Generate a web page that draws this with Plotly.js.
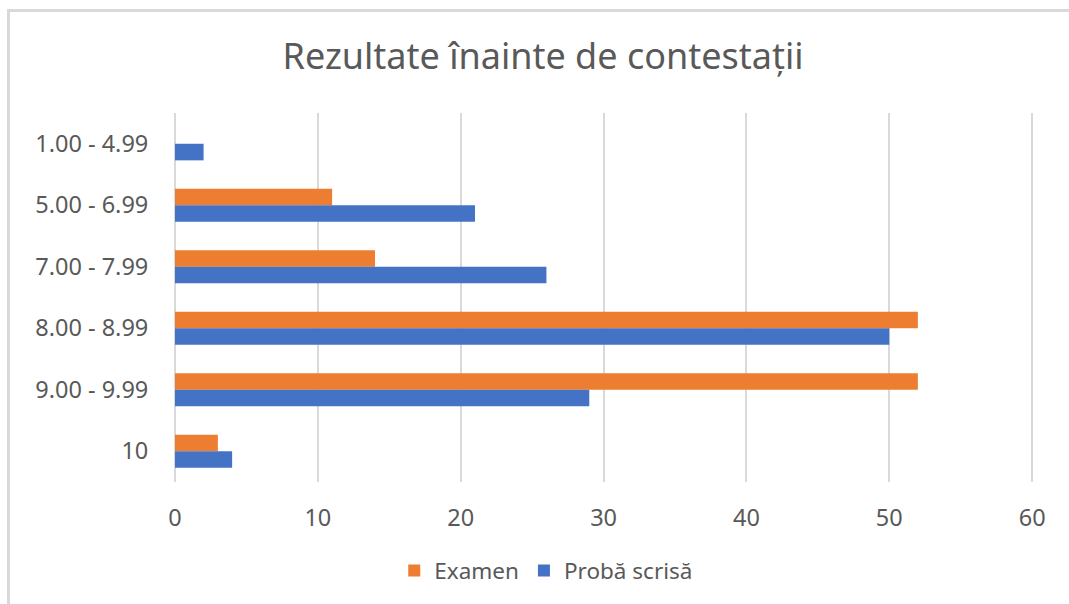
<!DOCTYPE html>
<html>
<head>
<meta charset="utf-8">
<script src="https://cdn.plot.ly/plotly-3.0.1.min.js"></script>
<style>
html,body{margin:0;padding:0;background:#fff;overflow:hidden;width:1069px;height:604px;}
#ftop{position:absolute;left:7px;top:9px;width:1062px;height:3px;background:#d9d9d9;z-index:5;}
#fleft{position:absolute;left:7px;top:9px;width:3px;height:595px;background:#d9d9d9;z-index:5;}
#chart{position:absolute;left:0;top:0;width:1069px;height:604px;}
</style>
</head>
<body>
<div id="ftop"></div>
<div id="fleft"></div>
<div id="chart"></div>
<script>
const categories = ["1.00 - 4.99", "5.00 - 6.99", "7.00 - 7.99", "8.00 - 8.99", "9.00 - 9.99", "10"];
const examen = [0, 11, 14, 52, 52, 3];
const probaScrisa = [2, 21, 26, 50, 29, 4];
const xTicks = [0, 10, 20, 30, 40, 50, 60];

const font = "'Noto Sans', 'Open Sans', sans-serif";
const traces = [
  {type: 'bar', orientation: 'h', name: 'Examen', y: categories, x: examen,
   marker: {color: '#ED7D31'}},
  {type: 'bar', orientation: 'h', name: 'Probă scrisă', y: categories, x: probaScrisa,
   marker: {color: '#4472C4'}}
];
const layout = {
  width: 1069, height: 604,
  margin: {l: 175, r: 34, t: 113, b: 122},
  paper_bgcolor: '#ffffff', plot_bgcolor: '#ffffff',
  font: {family: font, color: '#595959', size: 22},
  title: {text: 'Rezultate înainte de contestații', x: 0.508, xref: 'container', xanchor: 'center',
          y: 0.906, yref: 'container', yanchor: 'middle',
          font: {family: font, size: 36, color: '#595959'}},
  barmode: 'group', bargap: 0.46, bargroupgap: 0,
  xaxis: {range: [0, 60.2], tickvals: xTicks, showgrid: true, gridcolor: '#d9d9d9', gridwidth: 2,
          zeroline: true, zerolinecolor: '#d9d9d9', zerolinewidth: 2, showline: false,
          ticks: 'outside', ticklen: 15, tickcolor: 'rgba(0,0,0,0)', tickfont: {size: 23.5, color: '#595959'}, fixedrange: true},
  yaxis: {type: 'category', autorange: 'reversed', showgrid: false, zeroline: false, showline: false,
          ticks: 'outside', ticklen: 21, tickcolor: 'rgba(0,0,0,0)', tickfont: {size: 23.5, color: '#595959'}, fixedrange: true},
  showlegend: true,
  legend: {orientation: 'h', x: 0.511, xref: 'container', xanchor: 'center', y: 0.055, yref: 'container', yanchor: 'middle',
           font: {size: 22.5, color: '#595959'}, traceorder: 'normal', itemwidth: 30},
  hovermode: false
};
Plotly.newPlot('chart', traces, layout, {displayModeBar: false, staticPlot: true});
</script>
</body>
</html>
